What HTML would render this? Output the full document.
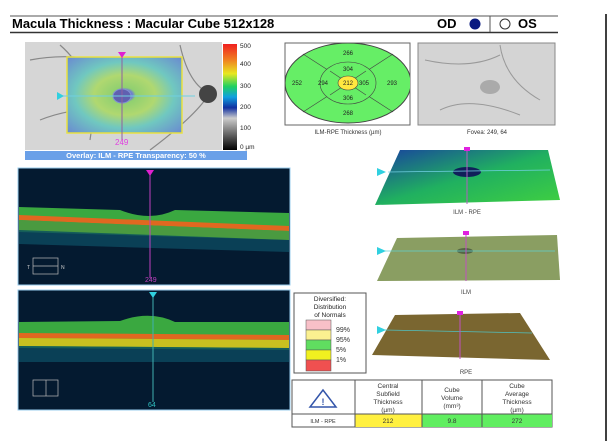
<!DOCTYPE html>
<html><head><meta charset="utf-8"><style>
body{margin:0;background:#fff;width:616px;height:441px;overflow:hidden;font-family:"Liberation Sans",sans-serif}
</style></head><body>
<svg width="616" height="441" viewBox="0 0 616 441" xmlns="http://www.w3.org/2000/svg" font-family="Liberation Sans, sans-serif">
<defs>
<linearGradient id="cb" x1="0" y1="1" x2="0" y2="0">
<stop offset="0" stop-color="#000"/><stop offset="0.2" stop-color="#888"/><stop offset="0.3" stop-color="#ccc"/><stop offset="0.4" stop-color="#1030a0"/><stop offset="0.5" stop-color="#10a0e0"/><stop offset="0.6" stop-color="#20d060"/><stop offset="0.72" stop-color="#e8e820"/><stop offset="0.85" stop-color="#f08020"/><stop offset="1" stop-color="#f02020"/></linearGradient>
<radialGradient id="map" cx="0.5" cy="0.5" r="0.7">
<stop offset="0" stop-color="#6070c0"/><stop offset="0.1" stop-color="#7080d0"/><stop offset="0.14" stop-color="#90d070"/><stop offset="0.38" stop-color="#b0d870"/><stop offset="0.62" stop-color="#70c8c0"/><stop offset="1" stop-color="#6a8ad0"/></radialGradient>
<linearGradient id="s1" x1="0" y1="0" x2="1" y2="1"><stop offset="0" stop-color="#1840a0"/><stop offset="0.5" stop-color="#20b060"/><stop offset="1" stop-color="#40d040"/></linearGradient>
<clipPath id="tm"><rect x="285" y="43" width="125" height="82"/></clipPath>
</defs>
<!-- header -->
<line x1="10" y1="16" x2="558" y2="16" stroke="#555" stroke-width="1"/>
<line x1="10" y1="32.5" x2="558" y2="32.5" stroke="#333" stroke-width="1.5"/>
<text x="12" y="28" font-size="13" font-weight="bold">Macula Thickness : Macular Cube 512x128</text>
<text x="437" y="28" font-size="13" font-weight="bold">OD</text>
<circle cx="475" cy="24" r="5.5" fill="#0a1a80"/>
<line x1="490" y1="16" x2="490" y2="32" stroke="#555"/>
<circle cx="505" cy="24" r="5" fill="none" stroke="#333"/>
<text x="518" y="28" font-size="13" font-weight="bold">OS</text>
<line x1="606" y1="14" x2="606" y2="441" stroke="#000" stroke-width="1.5"/>
<!-- fundus -->
<rect x="25" y="42" width="197" height="108" fill="#d6d6d6"/>
<path d="M30 60 Q80 50 140 70 M40 120 Q90 100 160 115 M60 45 Q100 80 90 140 M180 45 Q190 90 215 95 M150 150 Q190 120 205 100" stroke="#888" fill="none" stroke-width="1.2"/>
<circle cx="208" cy="94" r="9" fill="#444"/>
<rect x="67" y="57" width="115" height="76" fill="url(#map)" stroke="#e8e040" stroke-width="1.5"/>
<ellipse cx="122" cy="96" rx="9" ry="7" fill="#6060b0" stroke="#8090d0"/>
<line x1="122" y1="52" x2="122" y2="140" stroke="#9060a0"/>
<line x1="60" y1="96" x2="195" y2="96" stroke="#70d0e0"/>
<polygon points="118,52 126,52 122,58" fill="#e020d0"/>
<polygon points="57,92 57,100 64,96" fill="#30d0e0"/>
<text x="115" y="145" font-size="8" fill="#e040e0">249</text>
<rect x="223" y="44" width="14" height="106" fill="url(#cb)"/>
<g font-size="6.5" fill="#222"><text x="240" y="48">500</text><text x="240" y="66">400</text><text x="240" y="88">300</text><text x="240" y="109">200</text><text x="240" y="130">100</text><text x="240" y="149">0 µm</text></g>
<rect x="25" y="151" width="222" height="9" fill="#6aa0e8"/>
<text x="136" y="158" font-size="7.5" font-weight="bold" fill="#fff" text-anchor="middle">Overlay: ILM - RPE  Transparency: 50 %</text>
<!-- thickness map -->
<rect x="285" y="43" width="125" height="82" fill="#fff" stroke="#666"/>
<g clip-path="url(#tm)">
<ellipse cx="348" cy="83" rx="63" ry="40" fill="#66ee66" stroke="#444"/>
<line x1="303" y1="54" x2="393" y2="112" stroke="#444" stroke-width="0.6"/>
<line x1="393" y1="54" x2="303" y2="112" stroke="#444" stroke-width="0.6"/>
<ellipse cx="348" cy="83" rx="28" ry="21" fill="#66ee66" stroke="#444" stroke-width="0.6"/>
<line x1="330" y1="71" x2="366" y2="95" stroke="#444" stroke-width="0.6"/>
<line x1="366" y1="71" x2="330" y2="95" stroke="#444" stroke-width="0.6"/>
<ellipse cx="348" cy="83" rx="10" ry="7" fill="#ffe840" stroke="#444" stroke-width="0.6"/>
</g>
<g font-size="6" text-anchor="middle" fill="#222"><text x="348" y="55">266</text><text x="348" y="85">212</text><text x="348" y="71">304</text><text x="348" y="100">306</text><text x="348" y="115">268</text><text x="297" y="85">252</text><text x="323" y="85">294</text><text x="364" y="85">305</text><text x="392" y="85">293</text></g>
<text x="348" y="134" font-size="6" text-anchor="middle" fill="#333">ILM-RPE Thickness (µm)</text>
<rect x="418" y="43" width="137" height="82" fill="#d4d4d4" stroke="#888"/>
<path d="M425 60 Q470 70 500 55 M440 110 Q470 95 520 115 M500 45 Q505 80 540 100" stroke="#999" fill="none"/>
<ellipse cx="490" cy="87" rx="10" ry="7" fill="#aaa"/>
<text x="487" y="134" font-size="6" text-anchor="middle" fill="#333">Fovea: 249, 64</text>
<!-- OCT 1 -->
<rect x="18" y="168" width="272" height="117" fill="#041a30" stroke="#9ce" />
<path d="M19 207 L120 210 Q150 222 175 210 L289 213 L289 240 L19 232Z" fill="#3aa840"/>
<path d="M19 215 L289 226 L289 231 L19 220Z" fill="#e06820"/>
<path d="M19 220 L289 231 L289 240 L19 230Z" fill="#4a9a40"/>
<path d="M19 230 L289 240 L289 252 L19 244Z" fill="#0c4a60" opacity="0.8"/>
<line x1="150" y1="170" x2="150" y2="278" stroke="#c040c0"/>
<polygon points="146,170 154,170 150,176" fill="#e020d0"/>
<text x="145" y="282" font-size="7" fill="#c040c0">249</text>
<rect x="33" y="258" width="25" height="16" fill="none" stroke="#bbb" stroke-width="0.7"/>
<line x1="33" y1="266" x2="58" y2="266" stroke="#bbb" stroke-width="0.7"/>
<text x="27" y="269" font-size="5" fill="#ccc">T</text><text x="61" y="269" font-size="5" fill="#ccc">N</text>
<!-- OCT 2 -->
<rect x="18" y="290" width="272" height="120" fill="#041a30" stroke="#9ce"/>
<path d="M19 322 L120 321 Q150 310 175 322 L289 322 L289 350 L19 348Z" fill="#3aa840"/>
<path d="M19 333 L289 335 L289 340 L19 338Z" fill="#e06820"/>
<path d="M19 338 L289 340 L289 348 L19 346Z" fill="#c8c020"/>
<path d="M19 346 L289 348 L289 362 L19 362Z" fill="#0c4a60" opacity="0.8"/>
<line x1="153" y1="292" x2="153" y2="402" stroke="#40b0b0"/>
<polygon points="149,292 157,292 153,298" fill="#30d0e0"/>
<text x="148" y="407" font-size="7" fill="#30c0c0">64</text>
<rect x="33" y="380" width="25" height="16" fill="none" stroke="#bbb" stroke-width="0.7"/>
<line x1="46" y1="380" x2="46" y2="396" stroke="#bbb" stroke-width="0.7"/>
<!-- 3D surfaces -->
<polygon points="400,150 548,150 560,200 375,205" fill="url(#s1)"/>
<ellipse cx="467" cy="172" rx="14" ry="5" fill="#10205a"/>
<line x1="388" y1="172" x2="550" y2="170" stroke="#70d0e0" stroke-width="0.8"/>
<line x1="467" y1="150" x2="467" y2="204" stroke="#b060c0"/>
<rect x="464" y="147" width="6" height="4" fill="#e020e0"/>
<polygon points="377,168 377,176 386,172" fill="#30d0e0"/>
<text x="467" y="214" font-size="6" text-anchor="middle" fill="#444">ILM - RPE</text>
<polygon points="397,238 557,235 560,280 377,281" fill="#8a9e62"/>
<ellipse cx="465" cy="251" rx="8" ry="3" fill="#556644"/>
<line x1="385" y1="251" x2="555" y2="251" stroke="#60d0d0" stroke-width="0.8"/>
<line x1="466" y1="233" x2="466" y2="281" stroke="#c050c0"/>
<rect x="463" y="231" width="6" height="4" fill="#e020e0"/>
<polygon points="377,247 377,255 386,251" fill="#30d0e0"/>
<text x="466" y="294" font-size="6" text-anchor="middle" fill="#444">ILM</text>
<polygon points="395,315 520,313 550,360 372,355" fill="#7a6630"/>
<line x1="385" y1="330" x2="532" y2="333" stroke="#50c0c0" stroke-width="0.8"/>
<line x1="460" y1="313" x2="460" y2="359" stroke="#c050c0"/>
<rect x="457" y="311" width="6" height="4" fill="#e020e0"/>
<polygon points="377,326 377,334 386,330" fill="#30d0e0"/>
<text x="466" y="374" font-size="6" text-anchor="middle" fill="#444">RPE</text>
<!-- legend -->
<rect x="294" y="293" width="72" height="80" fill="#fff" stroke="#555"/>
<g font-size="6.5" text-anchor="middle" fill="#222"><text x="330" y="301">Diversified:</text><text x="330" y="309">Distribution</text><text x="330" y="317">of Normals</text></g>
<rect x="306" y="320" width="25" height="10" fill="#f8c0c8" stroke="#555" stroke-width="0.5"/>
<rect x="306" y="330" width="25" height="10" fill="#fbf090" stroke="#555" stroke-width="0.5"/>
<rect x="306" y="340" width="25" height="10" fill="#60dd60" stroke="#555" stroke-width="0.5"/>
<rect x="306" y="350" width="25" height="10" fill="#f0f020" stroke="#555" stroke-width="0.5"/>
<rect x="306" y="360" width="25" height="11" fill="#f05050" stroke="#555" stroke-width="0.5"/>
<g font-size="7" fill="#333"><text x="336" y="332">99%</text><text x="336" y="342">95%</text><text x="336" y="352">5%</text><text x="336" y="362">1%</text></g>
<!-- table -->
<rect x="292" y="380" width="260" height="47" fill="#fff" stroke="#555"/>
<rect x="355" y="414" width="67" height="13" fill="#fff040"/>
<rect x="422" y="414" width="130" height="13" fill="#60ee60"/>
<line x1="292" y1="414" x2="552" y2="414" stroke="#555"/>
<line x1="355" y1="380" x2="355" y2="427" stroke="#555"/>
<line x1="422" y1="380" x2="422" y2="427" stroke="#555"/>
<line x1="482" y1="380" x2="482" y2="427" stroke="#555"/>
<polygon points="323,390 310,407 336,407" fill="#fff" stroke="#35a" stroke-width="1.5"/>
<text x="323" y="405" font-size="9" font-weight="bold" fill="#35a" text-anchor="middle">!</text>
<g font-size="6.5" text-anchor="middle" fill="#333">
<text x="388" y="388">Central</text><text x="388" y="396">Subfield</text><text x="388" y="404">Thickness</text><text x="388" y="412">(µm)</text>
<text x="452" y="392">Cube</text><text x="452" y="400">Volume</text><text x="452" y="408">(mm³)</text>
<text x="517" y="388">Cube</text><text x="517" y="396">Average</text><text x="517" y="404">Thickness</text><text x="517" y="412">(µm)</text>
<text x="323" y="423" font-size="5.5">ILM - RPE</text>
<text x="388" y="423">212</text><text x="452" y="423">9.8</text><text x="517" y="423">272</text></g>
</svg>
</body></html>
